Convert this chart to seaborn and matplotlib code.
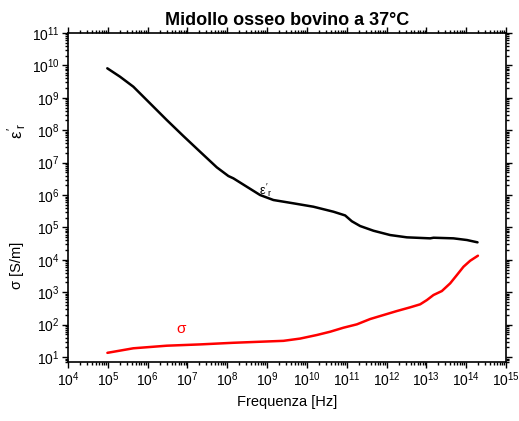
import numpy as np
import pandas as pd
import matplotlib
matplotlib.use("Agg")
import matplotlib.pyplot as plt
import matplotlib.ticker as mticker
import seaborn as sns

# Relative permittivity of bovine bone marrow at 37 °C (log10 frequency, log10 value)
eps_logf = [4.987, 5.307, 5.641, 6.060, 6.480, 6.897, 7.317, 7.736, 8.028, 8.153,
            8.490, 8.824, 9.158, 9.660, 10.163, 10.666, 10.960, 11.128, 11.337,
            11.671, 12.090, 12.510, 13.095, 13.180, 13.680, 14.020, 14.284]
eps_logv = [9.911, 9.651, 9.343, 8.830, 8.315, 7.821, 7.336, 6.855, 6.586, 6.515,
            6.256, 6.000, 5.846, 5.744, 5.639, 5.485, 5.370, 5.190, 5.043,
            4.898, 4.765, 4.694, 4.663, 4.682, 4.663, 4.611, 4.540]

# Conductivity [S/m]
sig_logf = [4.990, 5.640, 6.480, 7.320, 8.150, 8.990, 9.410, 9.830, 10.250, 10.583,
            10.917, 11.254, 11.588, 11.922, 12.259, 12.593, 12.844, 13.013, 13.178,
            13.389, 13.598, 13.766, 13.932, 14.100, 14.294]
sig_logv = [1.130, 1.270, 1.350, 1.390, 1.440, 1.480, 1.500, 1.570, 1.680, 1.781,
            1.905, 2.009, 2.173, 2.296, 2.420, 2.534, 2.627, 2.759, 2.914,
            3.037, 3.275, 3.531, 3.787, 3.972, 4.127]

x_ticks = [10.0 ** k for k in range(4, 16)]
y_ticks = [10.0 ** k for k in range(1, 12)]

eps_df = pd.DataFrame({"f": np.power(10.0, eps_logf), "v": np.power(10.0, eps_logv)})
sig_df = pd.DataFrame({"f": np.power(10.0, sig_logf), "v": np.power(10.0, sig_logv)})

sns.set_style("ticks")
plt.rcParams["font.family"] = ["Liberation Sans", "DejaVu Sans"]
plt.rcParams["mathtext.fontset"] = "custom"
plt.rcParams["mathtext.rm"] = "Liberation Sans"
plt.rcParams["mathtext.it"] = "Liberation Sans"
plt.rcParams["text.color"] = "black"
plt.rcParams["axes.labelcolor"] = "black"
plt.rcParams["xtick.color"] = "black"
plt.rcParams["ytick.color"] = "black"

fig = plt.figure(figsize=(5.19, 4.21), dpi=100)
ax = fig.add_axes([0.131, 0.140, 0.844, 0.7816])

sns.lineplot(data=eps_df, x="f", y="v", ax=ax, color="black", linewidth=1.8, sort=False)
sns.lineplot(data=sig_df, x="f", y="v", ax=ax, color="#ff0000", linewidth=1.8, sort=False)

ax.set_xscale("log")
ax.set_yscale("log")
ax.set_xlim(1e4, 1e15)
ax.set_ylim(7, 1e11)
ax.set_xticks(x_ticks)
ax.set_yticks(y_ticks)
ax.xaxis.set_minor_locator(mticker.LogLocator(base=10, subs=np.arange(2, 10), numticks=20))
ax.yaxis.set_minor_locator(mticker.LogLocator(base=10, subs=np.arange(2, 10), numticks=20))
ax.xaxis.set_minor_formatter(mticker.NullFormatter())
ax.yaxis.set_minor_formatter(mticker.NullFormatter())

ax.tick_params(which="both", direction="out", top=True, right=True,
               labeltop=False, labelright=False, color="black", width=1.0)
ax.tick_params(which="major", length=4, labelsize=10, pad=2)
ax.tick_params(which="minor", length=2)
for s in ax.spines.values():
    s.set_color("black")
    s.set_linewidth(1.2)

ax.set_xlabel("Frequenza [Hz]", fontsize=10.5, labelpad=4)
ax.set_ylabel("")
ax.set_title("Midollo osseo bovino a 37°C", fontsize=13, fontweight="bold",
             pad=6, color="black")

# Two y-axis labels, one for each quantity
fig.text(0.033, 0.69, r"$\varepsilon'_r$", rotation=90, fontsize=12,
         ha="center", va="center")
fig.text(0.033, 0.37, "σ [S/m]", rotation=90, fontsize=10.5,
         ha="center", va="center")

# In-plot curve labels
ax.text(10 ** 8.97, 10 ** 6.15, r"$\varepsilon'_r$", fontsize=9, color="black",
        ha="center", va="center")
ax.text(10 ** 6.85, 10 ** 1.85, "σ", fontsize=11, color="#ff0000",
        ha="center", va="center")

fig.savefig("out.png", dpi=100, facecolor="white")
